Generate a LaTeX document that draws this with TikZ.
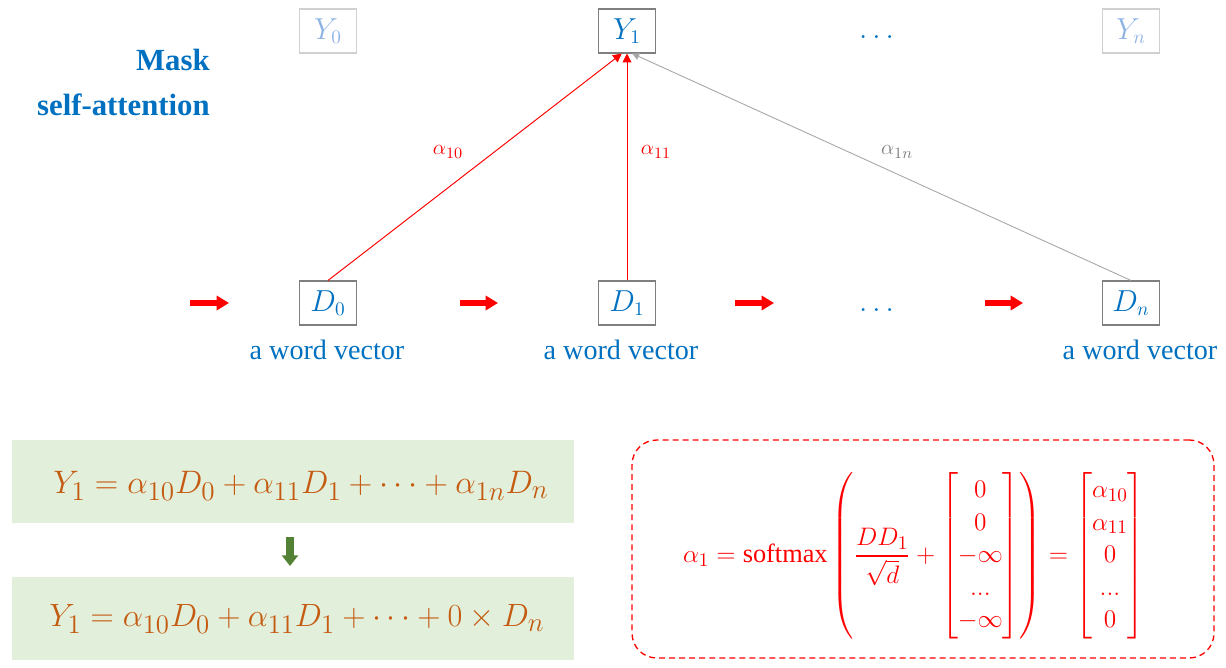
\documentclass[tikz,border=0pt]{standalone}
\usepackage{amsmath}
\usepackage{fontspec}
\setmainfont{Liberation Serif}
\usetikzlibrary{arrows.meta}
\definecolor{dblue}{HTML}{0070C0}
\definecolor{fblue}{HTML}{8EB4E3}
\definecolor{fgray}{HTML}{D0D0D0}
\definecolor{bgray}{HTML}{7F7F7F}
\definecolor{lgray}{HTML}{A6A6A6}
\definecolor{tgray}{HTML}{808080}
\definecolor{eqorange}{HTML}{C55A11}
\definecolor{pgreen}{HTML}{E2EFDA}
\definecolor{agreen}{HTML}{548235}
\tikzset{
    every node/.style={inner sep=0mm},
    vbox/.style={rectangle, draw=bgray, line width=0.6pt, minimum width=1.14cm,
        minimum height=0.88cm, text=dblue, font=\fontsize{16}{19}\selectfont},
    vfaded/.style={vbox, draw=fgray, text=fblue},
    wordlbl/.style={text=dblue, font=\fontsize{16}{19}\selectfont, anchor=base},
    wlbl/.style={font=\fontsize{13}{15}\selectfont},
    redlink/.style={draw=red, line width=0.55pt, -{Triangle[length=5pt,width=5pt]}},
    graylink/.style={draw=lgray, line width=0.5pt, -{Triangle[length=4pt,width=4pt]}},
    fwd/.style={draw=red, line width=3.4pt, -{Triangle[length=7pt,width=8pt]}},
    panel/.style={rectangle, fill=pgreen, minimum width=11.24cm, minimum height=1.66cm},
    paneleq/.style={text=eqorange, font=\fontsize{19}{23}\selectfont}
}

\begin{document}
\begin{tikzpicture}[x=0.02cm, y=-0.02cm]
    \useasboundingbox (0,0) rectangle (1226,668);

    % heading
    \node (mask) at (210,71) [anchor=base east, text=dblue,
        font=\fontsize{17.5}{21}\selectfont\bfseries] {Mask};
    \node (selfatt) at (210,116) [anchor=base east, text=dblue,
        font=\fontsize{17.5}{21}\selectfont\bfseries] {self-attention};

    % outputs
    \node (Y0) at (328,31) [vfaded] {$Y_0$};
    \node (Y1) at (627,31) [vbox] {$Y_1$};
    \node (ydots) at (879,39) [anchor=base, text=dblue,
        font=\fontsize{16}{19}\selectfont] {$\dots$};
    \node (Yn) at (1131,31) [vfaded] {$Y_n$};

    % inputs
    \node (D0) at (328,303) [vbox] {$D_0$};
    \node (D1) at (627,303) [vbox] {$D_1$};
    \node (ddots) at (879,312) [anchor=base, text=dblue,
        font=\fontsize{16}{19}\selectfont] {$\dots$};
    \node (Dn) at (1131,303) [vbox] {$D_n$};

    \node (w0) at (327,360) [wordlbl] {a word vector};
    \node (w1) at (621,360) [wordlbl] {a word vector};
    \node (wn) at (1140,360) [wordlbl] {a word vector};

    % attention weights
    \draw[graylink] (Dn.north) -- (Y1.283);
    \draw[redlink] (D0.north) -- (Y1.257);
    \draw[redlink] (D1.north) -- (Y1.south);

    \node (a10) at (448,152) [wlbl, text=red] {$\alpha_{10}$};
    \node (a11) at (656,152) [wlbl, text=red] {$\alpha_{11}$};
    \node (a1n) at (897,152) [wlbl, text=tgray] {$\alpha_{1n}$};

    % sequence arrows
    \coordinate (f1s) at (190,303); \coordinate (f1e) at (229,303);
    \coordinate (f2s) at (460,303); \coordinate (f2e) at (498,303);
    \coordinate (f3s) at (735,303); \coordinate (f3e) at (774,303);
    \coordinate (f4s) at (985,303); \coordinate (f4e) at (1023,303);
    \draw[fwd] (f1s) -- (f1e);
    \draw[fwd] (f2s) -- (f2e);
    \draw[fwd] (f3s) -- (f3e);
    \draw[fwd] (f4s) -- (f4e);

    % weighted sums
    \node (p1) at (293,481.5) [panel] {};
    \node (p2) at (293,618.5) [panel] {};
    \node (sum1) at (301,486) [paneleq]
        {\scalebox{1.07}{$Y_1=\alpha_{10}D_0+\alpha_{11}D_1+\cdots+\alpha_{1n}D_n$}};
    \node (sum2) at (297,619) [paneleq]
        {\scalebox{1.06}{$Y_1=\alpha_{10}D_0+\alpha_{11}D_1+\cdots+0\times D_n$}};
    \coordinate (g1) at (290,537);
    \coordinate (g2) at (290,566);
    \draw[draw=agreen, line width=4.5pt, -{Triangle[length=6pt,width=9pt]}] (g1) -- (g2);

    % softmax
    \node (sbox) at (923,549) [rectangle, draw=red, line width=0.75pt,
        dash pattern=on 3.4pt off 2.3pt, rounded corners=14pt,
        minimum width=11.64cm, minimum height=4.36cm] {};
    \node (seq) at (914,556) [text=red, font=\fontsize{15}{18.5}\selectfont]
        {\setlength\arraycolsep{2.5pt}$\alpha_1=\mathrm{softmax}\left(\dfrac{DD_1}{\sqrt{d}}+
        \begin{bmatrix}0\\0\\-\infty\\...\\-\infty\end{bmatrix}\right)=
        \begin{bmatrix}\alpha_{10}\\\alpha_{11}\\0\\...\\0\end{bmatrix}$};
\end{tikzpicture}
\end{document}
